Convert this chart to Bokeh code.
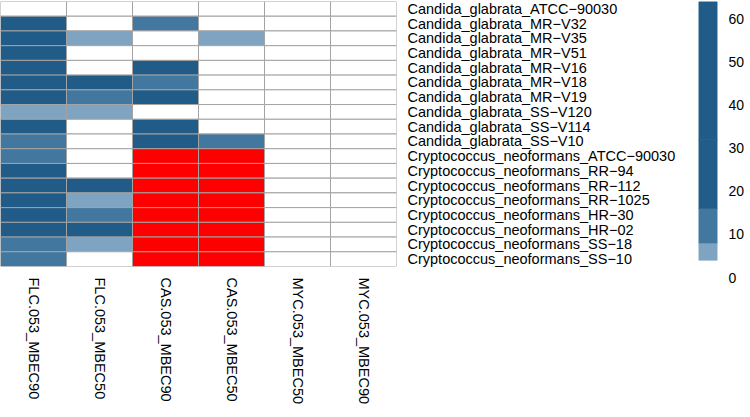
import math
from bokeh.plotting import figure
from bokeh.models import ColumnDataSource, Range1d, FixedTicker
from bokeh.layouts import row
from bokeh.embed import file_html
from bokeh.resources import INLINE

columns = ["FLC.053_MBEC90", "FLC.053_MBEC50", "CAS.053_MBEC90",
           "CAS.053_MBEC50", "MYC.053_MBEC50", "MYC.053_MBEC90"]
strains = ["Candida_glabrata_ATCC\u221290030", "Candida_glabrata_MR\u2212V32",
           "Candida_glabrata_MR\u2212V35", "Candida_glabrata_MR\u2212V51",
           "Candida_glabrata_MR\u2212V16", "Candida_glabrata_MR\u2212V18",
           "Candida_glabrata_MR\u2212V19", "Candida_glabrata_SS\u2212V120",
           "Candida_glabrata_SS\u2212V114", "Candida_glabrata_SS\u2212V10",
           "Cryptococcus_neoformans_ATCC\u221290030", "Cryptococcus_neoformans_RR\u221294",
           "Cryptococcus_neoformans_RR\u2212112", "Cryptococcus_neoformans_RR\u22121025",
           "Cryptococcus_neoformans_HR\u221230", "Cryptococcus_neoformans_HR\u221202",
           "Cryptococcus_neoformans_SS\u221218", "Cryptococcus_neoformans_SS\u221210"]

flc90 = [0, 64, 64, 64, 64, 64, 64, 8, 64, 16, 16, 64, 64, 64, 64, 64, 16, 16]
flc50 = [0, 0, 8, 0, 0, 64, 16, 8, 0, 0, 0, 0, 64, 8, 16, 64, 8, 0]
cas90 = [0, 16, 0, 0, 64, 16, 64, 0, 64, 64, 128, 128, 128, 128, 128, 128, 128, 128]
cas50 = [0, 0, 8, 0, 0, 0, 0, 0, 0, 16, 128, 128, 128, 128, 128, 128, 128, 128]
myc50 = [0, 0, 0, 0, 0, 0, 0, 0, 0, 0, 0, 0, 0, 0, 0, 0, 0, 0]
myc90 = [0, 0, 0, 0, 0, 0, 0, 0, 0, 0, 0, 0, 0, 0, 0, 0, 0, 0]

breaks = [4, 8, 16, 32, 64]
legend_ticks = [0, 10, 20, 30, 40, 50, 60]

WHITE = "#FFFFFF"
LIGHT = "#7EA4C1"
MEDIUM = "#42789F"
DARK = "#225C88"
DARK2 = "#215B87"
RED = "#FF0000"
band_colours = [LIGHT, MEDIUM, DARK, DARK2]


def colour(v):
    if v <= breaks[0]:
        return WHITE
    for i in range(1, len(breaks)):
        if v <= breaks[i]:
            return band_colours[i - 1]
    return RED


series = [flc90, flc50, cas90, cas50, myc50, myc90]
xs, ys, vals, cols = [], [], [], []
for c, s in zip(columns, series):
    for st, v in zip(strains, s):
        xs.append(c)
        ys.append(st)
        vals.append(v)
        cols.append(colour(v))
src = ColumnDataSource(dict(x=xs, y=ys, v=vals, c=cols))

FONT = "Liberation Sans"

p = figure(x_range=columns, y_range=list(reversed(strains)),
           frame_width=396, frame_height=265, height=401,
           y_axis_location="right", x_axis_location="below",
           toolbar_location=None, output_backend="svg",
           min_border_left=0, min_border_top=1, min_border_right=0,
           min_border_bottom=10)
p.rect(x="x", y="y", width=1, height=1, source=src,
       fill_color="c", line_color="#A3A3A3", line_width=1)
p.outline_line_color = None
p.grid.visible = False
for ax in (p.xaxis[0], p.yaxis[0]):
    ax.axis_line_color = None
    ax.major_tick_line_color = None
    ax.minor_tick_line_color = None
    ax.major_label_text_font = FONT
    ax.major_label_text_font_size = "14.5px"
    ax.major_label_text_color = "black"
p.xaxis.major_label_orientation = -math.pi / 2
p.xaxis.major_label_standoff = 5
p.yaxis.major_label_standoff = 5

# legend figure
lo = breaks[:-1]
hi = breaks[1:]
lsrc = ColumnDataSource(dict(bottom=lo, top=hi, c=band_colours))
lg = figure(x_range=Range1d(0, 1), y_range=Range1d(0, 64),
            frame_width=19, frame_height=276, height=401,
            y_axis_location="right", toolbar_location=None,
            output_backend="svg", min_border_left=20, min_border_top=1,
            min_border_right=0, min_border_bottom=10)
lg.quad(left=0, right=1, bottom="bottom", top="top", fill_color="c",
        line_color="c", line_width=0.6, source=lsrc)
lg.outline_line_color = None
lg.grid.visible = False
lg.xaxis.visible = False
lg.yaxis.ticker = FixedTicker(ticks=legend_ticks)
lg.yaxis.axis_line_color = None
lg.yaxis.major_tick_line_color = None
lg.yaxis.minor_tick_line_color = None
lg.yaxis.major_label_text_font = FONT
lg.yaxis.major_label_text_font_size = "14px"
lg.yaxis.major_label_standoff = 5
lg.yaxis.major_label_text_color = "black"

layout = row(p, lg, spacing=0)
open("out.html", "w").write(file_html(layout, INLINE))
